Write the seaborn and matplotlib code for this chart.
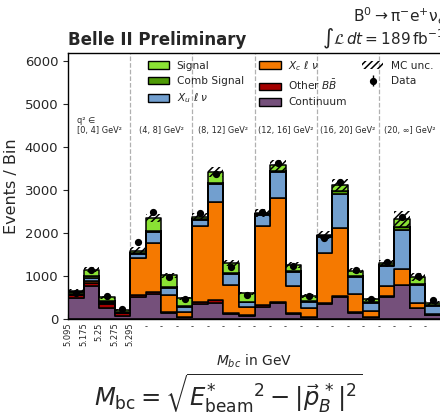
import numpy as np
import pandas as pd
import matplotlib
matplotlib.use("Agg")
import matplotlib.pyplot as plt
from matplotlib.patches import Patch
import seaborn as sns

# ---- per-bin yields (4 M_bc bins in each of 6 q^2 bins) ----
signal    = [30, 150, 90, 40,   65, 310, 270, 175,   55, 265, 225, 190,
             35, 130, 135, 110,  35, 135, 120, 75,   30, 170, 150, 55]
comb_sig  = [30, 40, 20, 20,    20, 30, 20, 20,     25, 30, 30, 20,
             20, 40, 20, 20,    20, 60, 20, 20,     30, 80, 30, 20]
xu_lnu    = [20, 60, 20, 10,    95, 255, 170, 115,  140, 400, 250, 100,
             255, 605, 325, 140, 355, 800, 405, 170, 465, 905, 425, 180]
xc_lnu    = [20, 50, 20, 10,    850, 1125, 395, 115, 1760, 2290, 650, 200,
             1845, 2400, 640, 220, 1180, 1590, 420, 145, 240, 365, 105, 25]
other_bb  = [60, 75, 110, 50,   50, 60, 20, 15,     55, 60, 25, 15,
             50, 25, 20, 10,    15, 10, 15, 10,     10, 10, 10, 10]
continuum = [490, 770, 250, 80, 510, 575, 145, 40,  350, 380, 115, 70,
             270, 380, 115, 35, 350, 520, 145, 40,  520, 790, 250, 90]
mc_unc    = [50, 60, 35, 25,    80, 100, 60, 40,    90, 115, 70, 40,
             90, 130, 60, 40,   85, 145, 60, 40,    85, 200, 90, 50]
data      = [612, 1140, 540, 240, 1790, 2480, 970, 460, 2460, 3365, 1215, 560,
             2495, 3620, 1235, 535, 1875, 3180, 1140, 465, 1330, 2380, 1005, 440]

mbc_edges = ["5.095", "5.175", "5.25", "5.275", "5.295"]
q2_labels = ["q² ∈\n[0, 4] GeV²", "(4, 8] GeV²", "(8, 12] GeV²",
             "(12, 16] GeV²", "(16, 20] GeV²", "(20, ∞] GeV²"]

components = ["Signal", "Comb Signal", r"$X_u\ \ell\ \nu$",
              r"$X_c\ \ell\ \nu$", r"Other $B\bar{B}$", "Continuum"]
colors = ["#8ae234", "#4e9a06", "#729fcf", "#f57900", "#a40000", "#75507b"]
yields = [signal, comb_sig, xu_lnu, xc_lnu, other_bb, continuum]

n_bins = len(data)
centers = np.arange(n_bins) + 0.5
edges = np.arange(n_bins + 1)

rows = []
for name, vals in zip(components, yields):
    for c, v in zip(centers, vals):
        rows.append({"bin": c, "count": v, "component": name})
df = pd.DataFrame(rows)

sns.set_style("ticks")
plt.rcParams["font.family"] = ["DejaVu Sans"]
plt.rcParams["hatch.linewidth"] = 1.1
plt.rcParams["mathtext.fontset"] = "dejavusans"

fig = plt.figure(figsize=(4.4, 4.15), dpi=100)
ax = fig.add_axes([68 / 440, 1 - 319 / 415, (441 - 68) / 440, (319 - 53) / 415])

# block separators
for b in range(4, n_bins, 4):
    ax.axvline(b, color="#b0b0b0", ls="--", lw=0.9, zorder=0.5)

sns.histplot(data=df, x="bin", weights="count", hue="component",
             hue_order=components, palette=dict(zip(components, colors)),
             multiple="stack", element="step", binwidth=1, binrange=(0, n_bins),
             alpha=1, edgecolor="black", linewidth=1.1, legend=False, ax=ax,
             zorder=2)

total = np.sum(np.array(yields), axis=0)
unc = np.array(mc_unc)
ax.bar(centers, 2 * unc, bottom=total - unc, width=1.0, fill=False,
       hatch="/////", edgecolor="black", linewidth=0, zorder=3)

eb = ax.errorbar(centers, data, yerr=np.sqrt(data), fmt="o", color="black",
                 markersize=4.2, elinewidth=1.0, capsize=0, zorder=4)

ax.set_xlim(0, n_bins)
ax.set_ylim(0, 6190)
ax.set_yticks(range(0, 6001, 1000))
ax.tick_params(axis="y", labelsize=9.5, direction="out", length=3.5, width=0.8)
ax.set_ylabel("Events / Bin", fontsize=11.5, labelpad=4)
ax.set_xlabel("")

ax.set_xticks(edges)
labels = mbc_edges + ["-"] * (len(edges) - len(mbc_edges))
ax.set_xticklabels(labels, fontsize=6)
for i, t in enumerate(ax.get_xticklabels()):
    t.set_rotation(90 if i < len(mbc_edges) else 0)
ax.tick_params(axis="x", direction="in", length=3.5, width=0.8, pad=2.5)
for s in ax.spines.values():
    s.set_linewidth(1.0)
    s.set_color("black")

# q^2 bin annotations
y_lab = (319 - 135) / 0.043
for k, lab in enumerate(q2_labels):
    ax.text(4 * k + 2, y_lab, lab, ha="center", va="bottom",
            multialignment="left", fontsize=5.9, zorder=5)

handles = [Patch(facecolor=c, edgecolor="black", linewidth=1.0) for c in colors]
handles.append(Patch(facecolor="none", edgecolor="black", linewidth=0, hatch="/////"))
handles.append(eb)
ax.legend(handles, components + ["MC unc.", "Data"], ncol=3,
          loc="upper left", bbox_to_anchor=(148 / 440, 1 - 59 / 415),
          bbox_transform=fig.transFigure, frameon=False, fontsize=7.6,
          handlelength=2.0, handleheight=0.75, columnspacing=1.5,
          labelspacing=0.5, borderpad=0, borderaxespad=0, handletextpad=0.7)

fig.text(68 / 440, 1 - 45 / 415, "Belle II Preliminary", fontsize=12,
         fontweight="bold", ha="left", va="baseline")
fig.text(445 / 440, 1 - 22 / 415, r"$\mathrm{B^0 \to \pi^{-} e^{+} \nu_e}$",
         fontsize=11.2, ha="right", va="baseline")
fig.text(444 / 440, 1 - 44 / 415, r"$\int\mathcal{L}\,dt = 189\,\mathrm{fb}^{-1}$",
         fontsize=11, ha="right", va="baseline")

fig.text(254 / 440, 1 - 361 / 415, r"$M_{bc}$ in GeV", fontsize=10,
         ha="center", va="center")
fig.text(228 / 440, 1 - 407 / 415,
         r"$M_{\rm bc} = \sqrt{{E^{*}_{\rm beam}}^{2} - |\vec{p}^{\,*}_{B}|^{2}}$",
         fontsize=17.5, ha="center", va="baseline")

fig.savefig("out.png", dpi=100)
